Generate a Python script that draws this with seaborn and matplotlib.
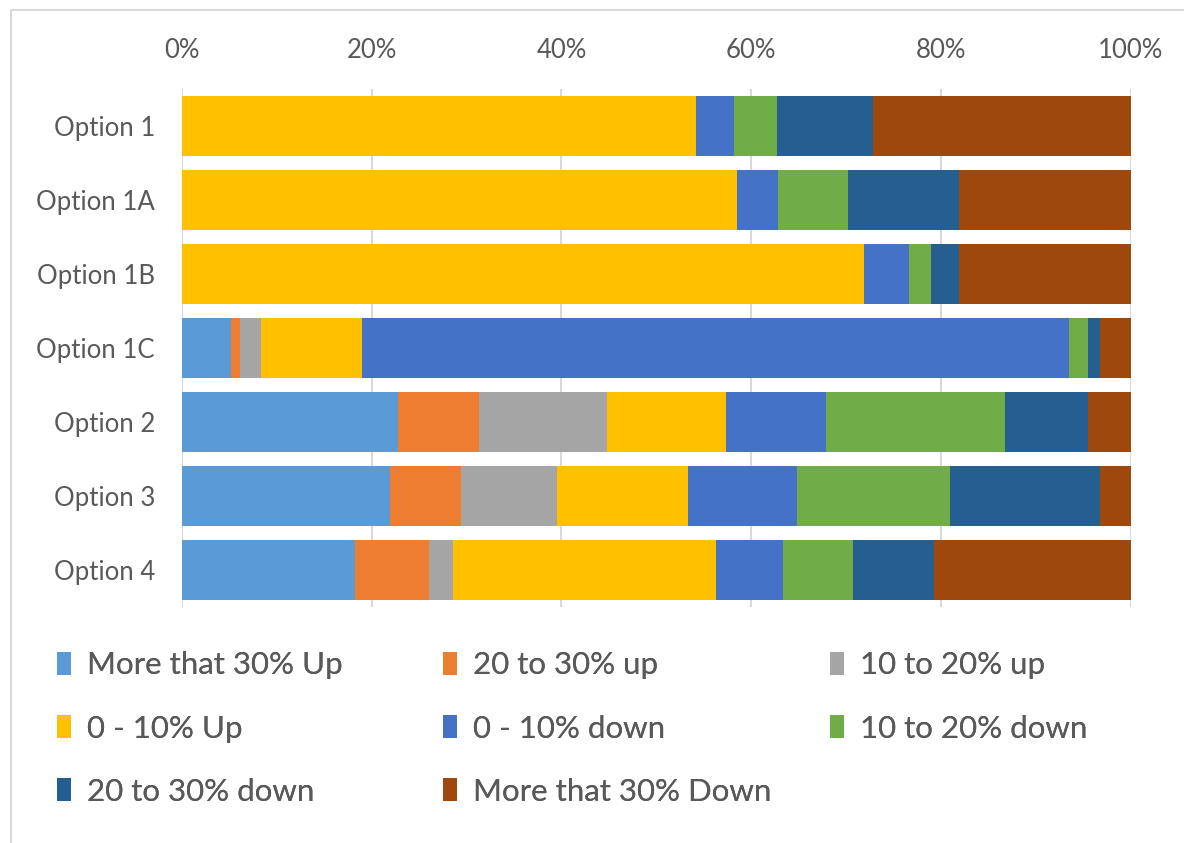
import numpy as np
import pandas as pd
import seaborn as sns
import matplotlib.pyplot as plt
from matplotlib.patches import Patch, Rectangle
from matplotlib.ticker import PercentFormatter

# Kategorien und Serien (Werte in %)
options = ['Option 1', 'Option 1A', 'Option 1B', 'Option 1C', 'Option 2', 'Option 3', 'Option 4']
series = ['More that 30% Up', '20 to 30% up', '10 to 20% up', '0 - 10% Up',
          '0 - 10% down', '10 to 20% down', '20 to 30% down', 'More that 30% Down']

more30_up = [0, 0, 0, 5.2, 22.8, 21.9, 18.2]
up_20_30 = [0, 0, 0, 0.9, 8.5, 7.5, 7.8]
up_10_20 = [0, 0, 0, 2.2, 13.5, 10.1, 2.6]
up_0_10 = [54.2, 58.5, 71.9, 10.7, 12.6, 13.8, 27.7]
down_0_10 = [4.0, 4.3, 4.7, 74.5, 10.5, 11.5, 7.1]
down_10_20 = [4.5, 7.4, 2.4, 2.0, 18.9, 16.2, 7.3]
down_20_30 = [10.1, 11.7, 2.9, 1.3, 8.7, 15.8, 8.6]
more30_down = [27.2, 18.1, 18.1, 3.2, 4.5, 3.2, 20.7]

colors = ['#5B9BD5', '#ED7D31', '#A5A5A5', '#FFC000',
          '#4472C4', '#70AD47', '#255E91', '#9E480E']

df = pd.DataFrame(
    [more30_up, up_20_30, up_10_20, up_0_10, down_0_10, down_10_20, down_20_30, more30_down],
    index=series, columns=options).T
cum = df.cumsum(axis=1)

sns.set_theme(style='white')
plt.rcParams['font.family'] = ['Lato', 'DejaVu Sans']
textcol = '#595959'

fig = plt.figure(figsize=(11.84, 8.43), dpi=100)
ax = fig.add_axes([0.1537, 0.280, 0.8012, 0.6145])

# gestapelte Balken: von der groessten Summe rueckwaerts zeichnen
for name, col in reversed(list(zip(series, colors))):
    sns.barplot(x=cum[name].values, y=options, orient='h', color=col,
                width=0.81, saturation=1, ax=ax, linewidth=0, zorder=3)

ax.set_xlim(0, 100)
ax.set_xticks(np.arange(0, 101, 20))
ax.xaxis.set_major_formatter(PercentFormatter(decimals=0))
ax.xaxis.tick_top()
ax.tick_params(axis='x', length=0, pad=19, labelsize=18.5, labelcolor=textcol)
ax.tick_params(axis='y', length=0, pad=19.5, labelsize=18.5, labelcolor=textcol)
ax.grid(axis='x', color='#D9D9D9', linewidth=1.5, zorder=0)
ax.set_axisbelow(True)
for s in ax.spines.values():
    s.set_visible(False)
ax.set_xlabel('')
ax.set_ylabel('')

# Legende zeilenweise wie im Original, je Spalte eine eigene Legende
handles = [Patch(facecolor=c, edgecolor='none') for c in colors]
col_idx = [[0, 3, 6], [1, 4, 7], [2, 5]]
col_x = [57, 443, 830]
for idx, xpx in zip(col_idx, col_x):
    leg = fig.legend([handles[i] for i in idx], [series[i] for i in idx],
                     loc='upper left', bbox_to_anchor=(xpx / 1184, 0.2275),
                     frameon=False, borderpad=0, borderaxespad=0,
                     fontsize=22.5, labelcolor=textcol, handlelength=0.45,
                     handleheight=0.75, handletextpad=0.5, labelspacing=1.13)
    fig.add_artist(leg)

# Rahmen um das Diagramm
fig.patches.append(Rectangle((0.009, -0.01), 1.1, 0.998, transform=fig.transFigure,
                             fill=False, edgecolor='#D9D9D9', linewidth=1.5))

fig.savefig('out.png', dpi=100)
